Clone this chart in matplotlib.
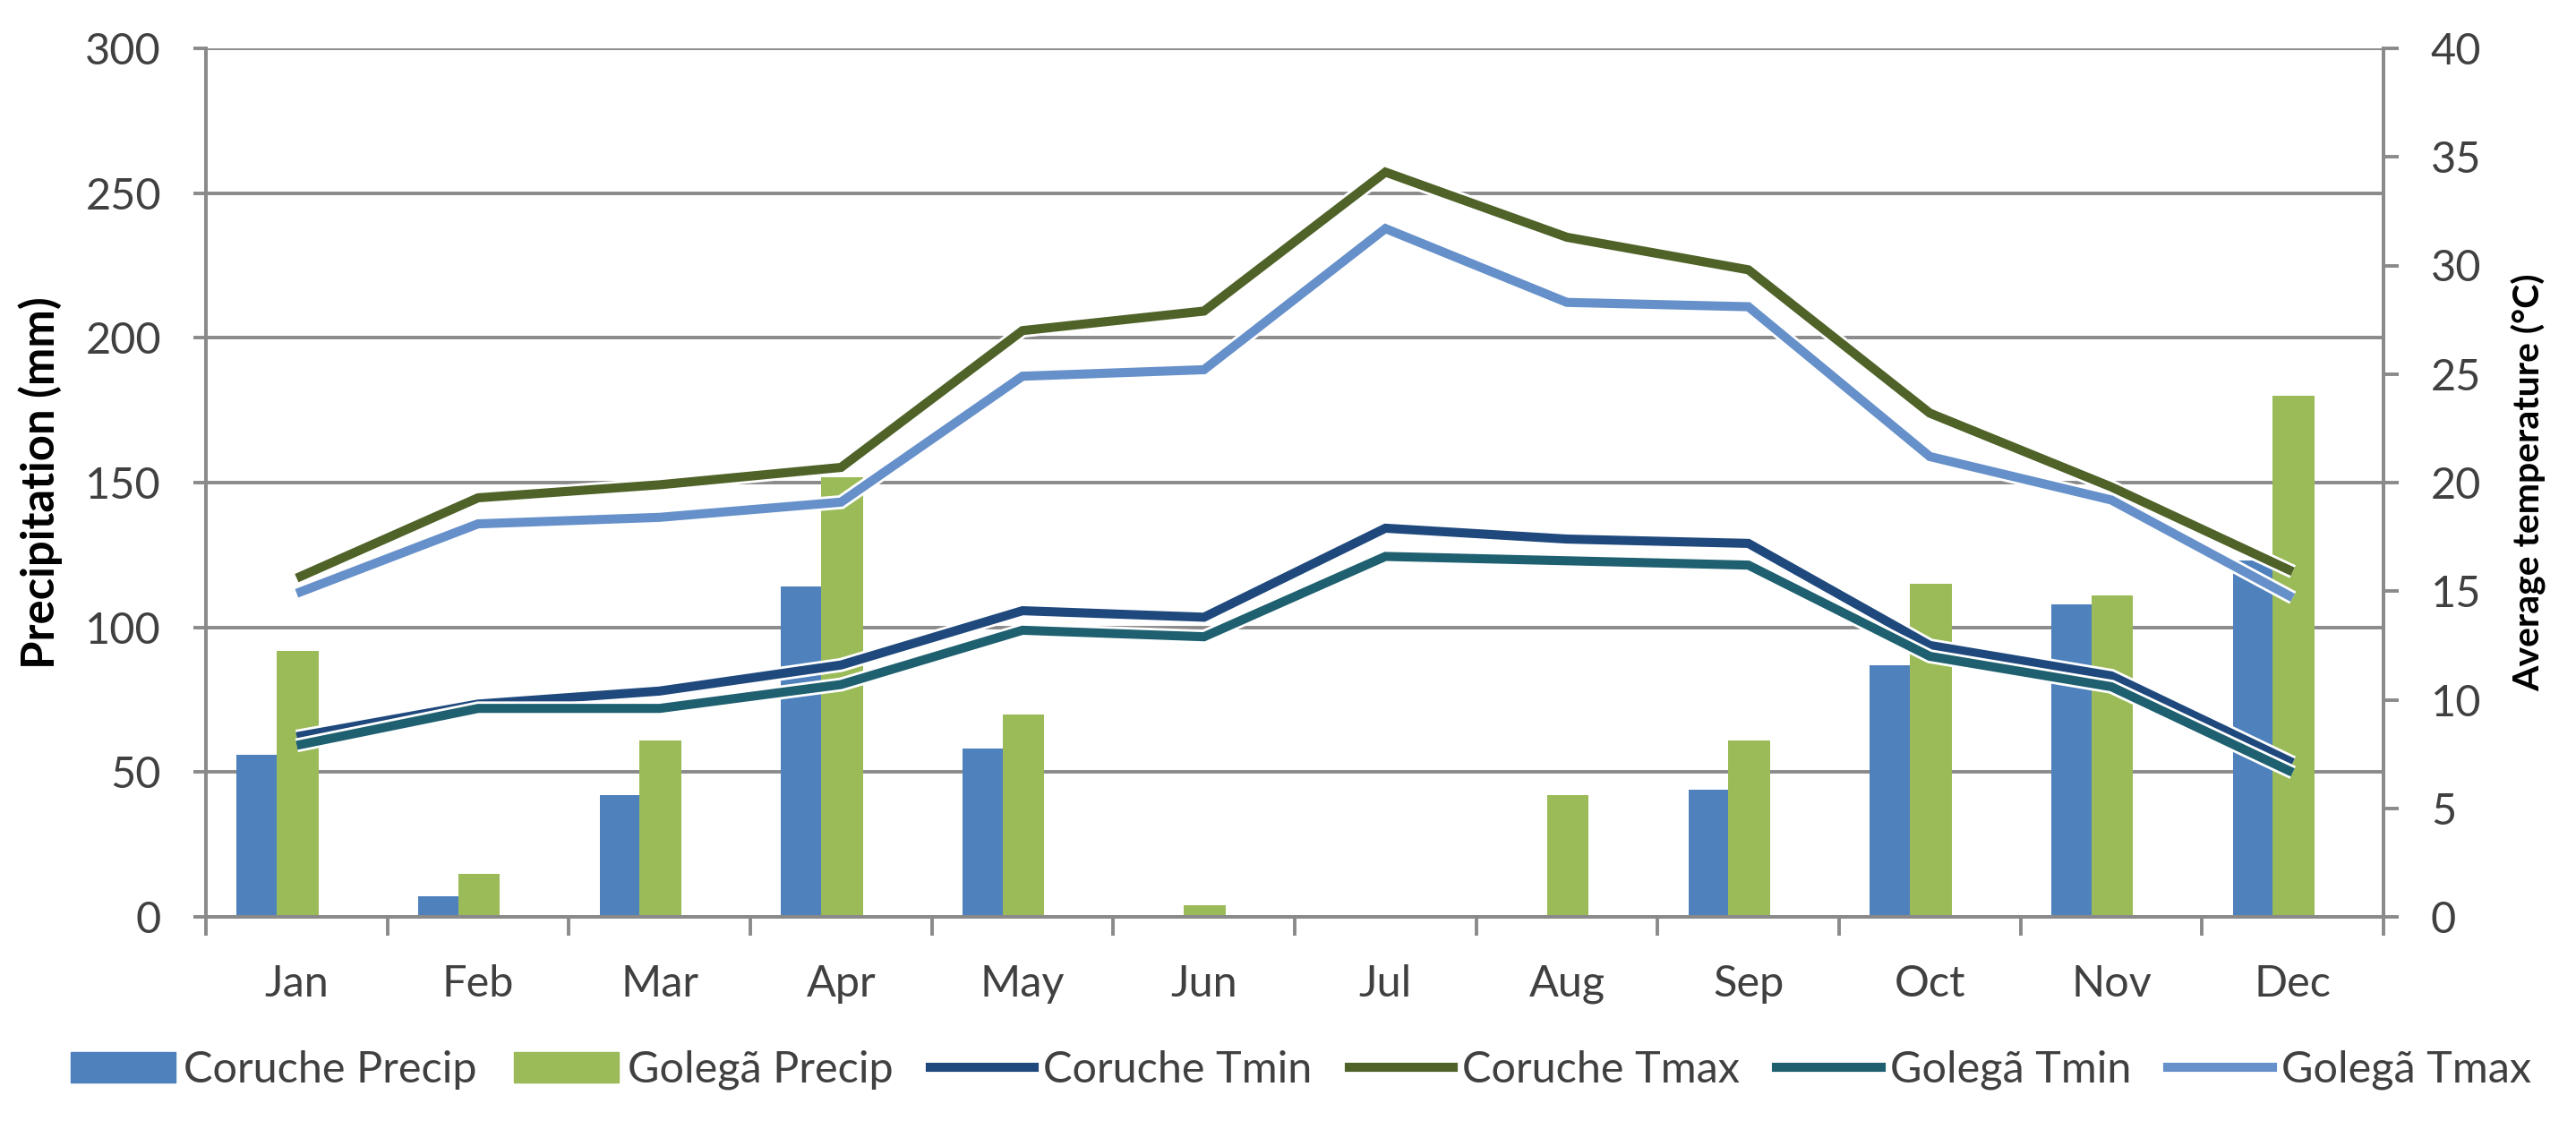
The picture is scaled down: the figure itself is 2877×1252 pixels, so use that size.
import matplotlib
matplotlib.use("Agg")
import matplotlib.pyplot as plt
import matplotlib.patheffects as pe
from matplotlib.patches import Patch
from matplotlib.lines import Line2D
import numpy as np

plt.rcParams['font.family'] = ['Lato', 'DejaVu Sans']

months = ['Jan', 'Feb', 'Mar', 'Apr', 'May', 'Jun', 'Jul', 'Aug', 'Sep', 'Oct', 'Nov', 'Dec']

# precipitation (mm)
coruche_precip = [56, 7, 42, 114, 58, 0, 0, 0, 44, 87, 108, 123]
golega_precip = [92, 15, 61, 152, 70, 4, 0, 42, 61, 115, 111, 180]

# average temperature (degC)
coruche_tmin = [8.3, 9.8, 10.4, 11.6, 14.1, 13.8, 17.9, 17.4, 17.2, 12.5, 11.1, 7.1]
coruche_tmax = [15.6, 19.3, 19.9, 20.7, 27.0, 27.9, 34.3, 31.3, 29.8, 23.2, 19.8, 15.9]
golega_tmin = [7.9, 9.6, 9.6, 10.7, 13.2, 12.9, 16.6, 16.4, 16.2, 12.0, 10.6, 6.65]
golega_tmax = [14.9, 18.1, 18.4, 19.1, 24.9, 25.2, 31.7, 28.3, 28.1, 21.2, 19.2, 14.7]

c_blue = '#4F81BD'
c_green = '#9BBB59'
c_navy = '#1F497D'
c_olive = '#4F6228'
c_teal = '#1F6070'
c_light = '#6690C9'
grid_c = '#8A8A8A'
txt_c = '#404040'
fs = 35

W, H = 2877, 1252
fig = plt.figure(figsize=(W / 100, H / 100), dpi=100)
ax = fig.add_axes([230 / W, 1 - 1024 / H, (2662 - 230) / W, (1024 - 54) / H])
ax2 = ax.twinx()

x = np.arange(len(months))
ax.bar(x - 0.22, coruche_precip, 0.22, color=c_blue, zorder=2)
ax.bar(x + 0.005, golega_precip, 0.23, color=c_green, zorder=2)

ax.set_xlim(-0.5, 11.5)
ax.set_ylim(0, 300)
ax.set_yticks(np.arange(0, 301, 50))
ax.yaxis.grid(True, color=grid_c, linewidth=2.8)
ax.set_axisbelow(True)
ax.set_xticks(x)
ax.set_xticklabels(months)
ax.set_xticks(np.arange(-0.5, 12, 1), minor=True)
ax.tick_params(axis='x', which='major', length=0, pad=38, labelsize=fs, labelcolor=txt_c)
ax.tick_params(axis='x', which='minor', length=15, width=2.8, color=grid_c, direction='out')
ax.tick_params(axis='y', length=10, width=2.8, color=grid_c, pad=26, labelsize=fs, labelcolor=txt_c)
ax.set_ylabel('Precipitation (mm)', fontsize=36.5, fontweight='bold', labelpad=18)

lw = 7.3
glow = [pe.Stroke(linewidth=lw + 4, foreground='white'), pe.Normal()]
series = [(coruche_tmin, c_navy, 'Coruche Tmin'),
          (coruche_tmax, c_olive, 'Coruche Tmax'),
          (golega_tmin, c_teal, 'Golegã Tmin'),
          (golega_tmax, c_light, 'Golegã Tmax')]
for vals, col, lab in series:
    ax2.plot(x, vals, color=col, linewidth=lw, solid_joinstyle='miter',
             solid_capstyle='butt', path_effects=glow)

ax2.set_ylim(0, 40)
ax2.set_yticks(np.arange(0, 41, 5))
ax2.tick_params(axis='y', length=12, width=2.8, color=grid_c, pad=26, labelsize=fs, labelcolor=txt_c)
ax2.set_ylabel('Average temperature (°C)', fontsize=29.5, fontweight='bold', labelpad=24)

for a in (ax, ax2):
    a.spines['top'].set_visible(False)
    for s in ('left', 'right', 'bottom'):
        a.spines[s].set_color(grid_c)
        a.spines[s].set_linewidth(2.8)

handles = [Patch(color=c_blue, label='Coruche Precip'),
           Patch(color=c_green, label='Golegã Precip')]
for vals, col, lab in series:
    handles.append(Line2D([], [], color=col, linewidth=lw, label=lab))
fig.legend(handles=handles, loc='center', bbox_to_anchor=(1453 / W, 57 / H), ncol=6,
           frameon=False, fontsize=fs, handlelength=2.4, handletextpad=0.2,
           columnspacing=0.85, labelcolor=txt_c)

fig.savefig('out.png', dpi=100)
